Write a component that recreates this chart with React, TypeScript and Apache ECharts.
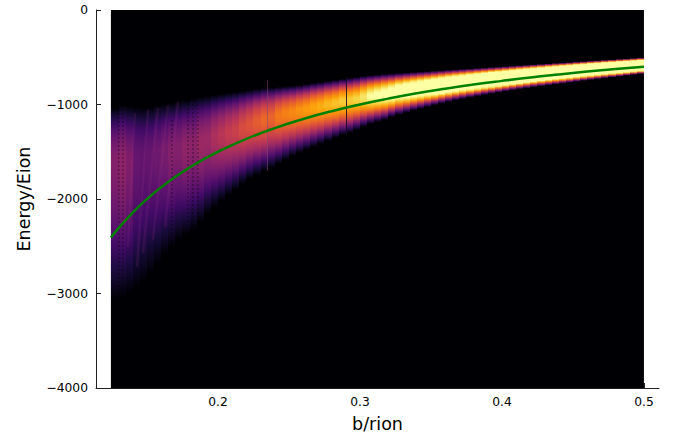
import React, { useEffect, useRef } from "react";
import * as echarts from "echarts";

const columnB = [0.1246,0.13,0.135,0.14,0.145,0.15,0.155,0.16,0.165,0.17,0.175,0.18,0.185,0.19,0.195,0.2,0.205,0.21,0.215,0.22,0.225,0.23,0.235,0.24,0.245,0.25,0.255,0.26,0.265,0.27,0.275,0.28,0.285,0.29,0.295,0.3,0.305,0.31,0.315,0.32,0.325,0.33,0.335,0.34,0.345,0.35,0.355,0.36,0.365,0.37,0.375,0.38,0.385,0.39,0.395,0.4,0.405,0.41,0.415,0.42,0.425,0.43,0.435,0.44,0.445,0.45,0.455,0.46,0.465,0.47,0.475,0.48,0.485,0.49,0.495,0.5];
const bandTop = [-1037,-1005,-1016,-1026,-1037,-1026,-1005,-995,-984,-963,-952,-931,-920,-910,-899,-889,-878,-868,-857,-846,-836,-825,-820,-815,-808,-802,-794,-783,-772,-762,-751,-741,-730,-719,-709,-698,-690,-684,-677,-672,-667,-662,-657,-652,-648,-643,-638,-633,-628,-624,-619,-614,-609,-604,-600,-595,-590,-585,-581,-576,-571,-566,-561,-557,-552,-547,-542,-537,-533,-528,-523,-518,-513,-509,-504];
const bandPeak = [-1587,-1587,-1587,-1570,-1550,-1530,-1510,-1495,-1481,-1460,-1449,-1428,-1397,-1365,-1333,-1312,-1291,-1270,-1238,-1206,-1174,-1153,-1132,-1111,-1090,-1079,-1058,-1047,-1026,-1016,-995,-984,-963,-952,-942,-921,-910,-899,-889,-878,-857,-846,-836,-826,-816,-807,-797,-787,-778,-768,-759,-750,-741,-732,-723,-714,-705,-696,-688,-680,-672,-664,-656,-650,-644,-638,-632,-626,-620,-615,-610,-605,-600,-594,-588];
const bandBottom = [-3068,-3036,-2994,-2941,-2878,-2783,-2687,-2582,-2507,-2433,-2380,-2328,-2243,-2158,-2084,-2021,-1957,-1904,-1841,-1788,-1746,-1703,-1672,-1629,-1587,-1545,-1513,-1481,-1449,-1418,-1386,-1354,-1323,-1301,-1270,-1238,-1206,-1185,-1164,-1132,-1108,-1086,-1065,-1045,-1026,-1008,-990,-973,-957,-942,-927,-913,-899,-887,-875,-863,-851,-840,-829,-818,-808,-798,-789,-780,-770,-760,-750,-741,-732,-723,-714,-705,-696,-687,-678];
const bandLevel = [0.36,0.39,0.35,0.29,0.28,0.29,0.31,0.33,0.36,0.36,0.39,0.38,0.42,0.42,0.46,0.49,0.52,0.54,0.58,0.6,0.63,0.66,0.65,0.7,0.72,0.74,0.76,0.78,0.8,0.82,0.84,0.86,0.88,0.88,0.9,0.94,1,1.03,1.06,1.1,1.13,1.17,1.2,1.23,1.26,1.3,1.33,1.36,1.38,1.4,1.43,1.45,1.47,1.5,1.52,1.54,1.56,1.58,1.6,1.62,1.64,1.66,1.68,1.7,1.72,1.74,1.76,1.78,1.8,1.82,1.84,1.86,1.88,1.9,1.92];
const upperShape = [0,0.2,0.38,0.54,0.68,0.79,0.87,0.93,0.98,1];
const lowerShape = [0,0.16,0.32,0.48,0.63,0.75,0.85,0.92,0.98,1];
const seamB = [0.2345,0.2905];
const seamWidth = [0.0007,0.0007];
const seamTop = [-740,-710];
const seamBottom = [-1700,-1320];
const seamColor = ["rgba(130,70,120,0.55)","rgba(20,10,40,0.85)"];
const streakFromB = [0.1415,0.1507,0.1577,0.1648,0.1718];
const streakToB = [0.1366,0.143,0.1472,0.1542,0.1627];
const streakFromE = [-1090,-1058,-1037,-1005,-973];
const streakToE = [-2507,-2719,-2571,-2433,-2296];
const rippleB = [0.1303,0.1331,0.1676,0.1789,0.1824,0.1859];
const rippleTop = [-1005,-1005,-1164,-952,-952,-952];
const rippleBottom = [-2962,-2962,-2486,-2275,-2275,-2275];
const curveB = [0.1246,0.13,0.14,0.15,0.16,0.17,0.18,0.19,0.2,0.22,0.24,0.26,0.28,0.3,0.32,0.34,0.36,0.38,0.4,0.42,0.44,0.46,0.48,0.5];
const curveE = [-2408,-2308,-2143,-2000,-1875,-1765,-1667,-1579,-1500,-1364,-1250,-1154,-1071,-1000,-938,-882,-833,-789,-750,-714,-682,-652,-625,-600];
const xTicks = [0.2,0.3,0.4,0.5];
const inferno = ["#000004","#160b39","#420a68","#6a176e","#932667","#bc3754","#dd513a","#f37819","#fca50a","#f6d746","#fcffa4"];

function hexRgb(h: string) {
  return [1, 3, 5].map((i) => parseInt(h.slice(i, i + 2), 16));
}
function colorAt(t: number) {
  const v = Math.max(0, Math.min(1, t)) * (inferno.length - 1);
  const i = Math.min(inferno.length - 2, Math.floor(v));
  const a = hexRgb(inferno[i]);
  const b = hexRgb(inferno[i + 1]);
  const f = v - i;
  return `rgb(${a.map((c, k) => Math.round(c + (b[k] - c) * f)).join(",")})`;
}
function stopsFor(top: number, peak: number, bottom: number, level: number) {
  const f = (peak - top) / (bottom - top);
  const n = upperShape.length - 1;
  const stops: { offset: number; color: string }[] = [];
  upperShape.forEach((p, i) => stops.push({ offset: (f * i) / n, color: colorAt(p * level) }));
  for (let i = n - 1; i >= 0; i--) {
    stops.push({ offset: f + ((1 - f) * (n - i)) / n, color: colorAt(lowerShape[i] * level) });
  }
  return stops;
}
const segment = (api: any, style: any) => {
  const a = api.coord([api.value(0), api.value(1)]);
  const b = api.coord([api.value(2), api.value(3)]);
  return { type: "line", shape: { x1: a[0], y1: a[1], x2: b[0], y2: b[1] }, style };
};

export default function App() {
  const ref = useRef<HTMLDivElement>(null);
  useEffect(() => {
    document.body.style.margin = "0";
    const chart = echarts.init(ref.current!, null, { renderer: "svg" });
    const font = "DejaVu Sans";
    const columns = bandTop.map((t, i) => [columnB[i], columnB[i + 1], t, bandPeak[i], bandBottom[i], bandLevel[i]]);
    const seams = seamB.map((b, i) => [b, b + seamWidth[i], seamTop[i], seamBottom[i], i]);
    chart.setOption({
      animation: false,
      backgroundColor: "#fff",
      grid: { left: 96, right: 17, top: 10, bottom: 46, outerBoundsMode: "none", containLabel: false },
      xAxis: {
        type: "value",
        min: 0.1141,
        max: 0.5106,
        name: "b/rion",
        nameLocation: "middle",
        nameGap: 27,
        nameTextStyle: { fontFamily: font, fontSize: 17.5, color: "#000" },
        splitLine: { show: false },
        axisLine: { onZero: false, lineStyle: { color: "#222", width: 1 } },
        axisTick: { inside: true, length: 5, customValues: xTicks, lineStyle: { color: "#222" } },
        axisLabel: { customValues: xTicks, fontFamily: font, fontSize: 12.3, color: "#000", margin: 8, formatter: (v: number) => String(v) },
      },
      yAxis: {
        type: "value",
        min: -4000,
        max: 0,
        interval: 1000,
        name: "Energy/Eion",
        nameLocation: "middle",
        nameGap: 63,
        nameTextStyle: { fontFamily: font, fontSize: 17.5, color: "#000" },
        splitLine: { show: false },
        axisLine: { show: true, onZero: false, lineStyle: { color: "#222", width: 1 } },
        axisTick: { show: true, inside: true, length: 5, lineStyle: { color: "#222" } },
        axisLabel: { fontFamily: font, fontSize: 12.3, color: "#000", margin: 8, formatter: (v: number) => String(v).replace("-", "\u2212") },
      },
      series: [
        {
          type: "custom",
          silent: true,
          z: 1,
          data: [[columnB[0], columnB[columnB.length - 1], 0, -4000]],
          renderItem: (_: any, api: any) => {
            const a = api.coord([api.value(0), api.value(2)]);
            const b = api.coord([api.value(1), api.value(3)]);
            return { type: "rect", shape: { x: a[0], y: a[1], width: b[0] - a[0], height: b[1] - a[1] }, style: { fill: inferno[0] } };
          },
        },
        {
          type: "custom",
          silent: true,
          z: 2,
          data: columns,
          renderItem: (_: any, api: any) => {
            const top = api.value(2), peak = api.value(3), bottom = api.value(4), level = api.value(5);
            const a = api.coord([api.value(0), top]);
            const b = api.coord([api.value(1), bottom]);
            const x0 = Math.round(a[0]), x1 = Math.round(b[0]);
            return {
              type: "rect",
              shape: { x: x0, y: a[1], width: x1 - x0, height: b[1] - a[1] },
              style: { fill: { type: "linear", x: 0, y: 0, x2: 0, y2: 1, colorStops: stopsFor(top, peak, bottom, level) } },
            };
          },
        },
        {
          type: "custom",
          silent: true,
          z: 3,
          data: streakFromB.map((b, i) => [b, streakFromE[i], streakToB[i], streakToE[i]]),
          renderItem: (_: any, api: any) => segment(api, { stroke: "rgba(170,60,140,0.14)", lineWidth: 2.5 }),
        },
        {
          type: "custom",
          silent: true,
          z: 3,
          data: rippleB.map((b, i) => [b, rippleTop[i], b, rippleBottom[i]]),
          renderItem: (_: any, api: any) => segment(api, { stroke: "rgba(0,0,4,0.26)", lineWidth: 2, lineDash: [2, 2] }),
        },
        {
          type: "custom",
          silent: true,
          z: 3,
          data: seams,
          renderItem: (_: any, api: any) => {
            const a = api.coord([api.value(0), api.value(2)]);
            const b = api.coord([api.value(1), api.value(3)]);
            return { type: "rect", shape: { x: Math.round(a[0]), y: a[1], width: 1, height: b[1] - a[1] }, style: { fill: seamColor[api.value(4)] } };
          },
        },
        {
          type: "line",
          z: 4,
          silent: true,
          showSymbol: false,
          smooth: true,
          data: curveB.map((b, i) => [b, curveE[i]]),
          lineStyle: { color: "#008000", width: 2.5 },
        },
      ],
    });
    return () => chart.dispose();
  }, []);
  return <div ref={ref} style={{ width: 676, height: 434 }} />;
}
